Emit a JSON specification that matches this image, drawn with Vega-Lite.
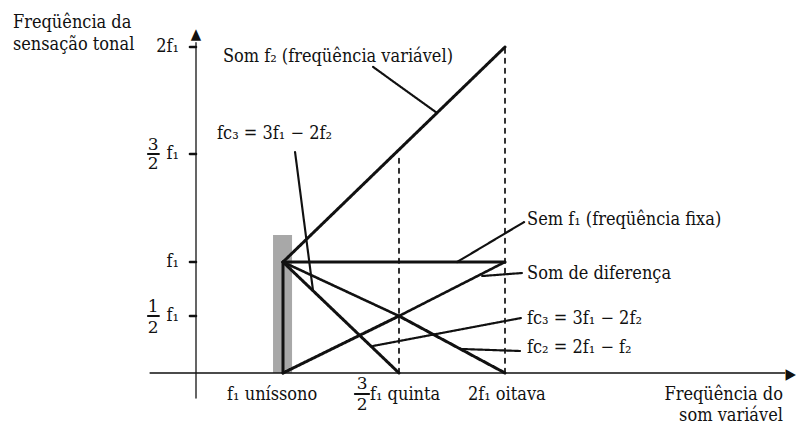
{
  "$schema": "https://vega.github.io/schema/vega-lite/v6.json",
  "width": 801,
  "height": 427,
  "autosize": "none",
  "padding": 0,
  "background": "white",
  "config": {"view": {"stroke": null}},
  "datasets": {
    "segs": [
      {"x": 1, "y": 1, "x2": 2, "y2": 2, "kind": "thick"},
      {"x": 1, "y": 1, "x2": 2, "y2": 1, "kind": "thick"},
      {"x": 1, "y": 0, "x2": 1, "y2": 1, "kind": "thick"},
      {"x": 1, "y": 1, "x2": 1.5, "y2": 0, "kind": "thick"},
      {"x": 1, "y": 0, "x2": 1.5, "y2": 0.5, "kind": "thick"},
      {"x": 1.5, "y": 0.5, "x2": 2, "y2": 1, "kind": "thin"},
      {"x": 1, "y": 1, "x2": 1.5, "y2": 0.5, "kind": "thin"},
      {"x": 1.5, "y": 0.5, "x2": 2, "y2": 0, "kind": "thick"},
      {"x": 1.5, "y": 0, "x2": 1.5, "y2": 1.5, "kind": "dash"},
      {"x": 2, "y": 0, "x2": 2, "y2": 2, "kind": "dash"},
      {"x": 0.427, "y": 0, "x2": 3.32, "y2": 0, "kind": "axis"},
      {"x": 0.625, "y": -0.22, "x2": 0.625, "y2": 2.02, "kind": "axis"},
      {"x": 0.599, "y": 0.5, "x2": 0.625, "y2": 0.5, "kind": "thin"},
      {"x": 0.599, "y": 1, "x2": 0.625, "y2": 1, "kind": "thin"},
      {"x": 0.599, "y": 1.5, "x2": 0.625, "y2": 1.5, "kind": "thin"},
      {"x": 0.599, "y": 2, "x2": 0.625, "y2": 2, "kind": "thin"},
      {"x": 0.418, "y": 1.5, "x2": 0.465, "y2": 1.5, "kind": "leader"},
      {"x": 0.418, "y": 0.5, "x2": 0.465, "y2": 0.5, "kind": "leader"},
      {"x": 1.31, "y": -0.184, "x2": 1.371, "y2": -0.184, "kind": "leader"},
      {"x": 1.388, "y": 1.907, "x2": 1.679, "y2": 1.692, "kind": "leader"},
      {"x": 1.052, "y": 1.509, "x2": 1.129, "y2": 0.741, "kind": "leader"},
      {"x": 2.09, "y": 1.185, "x2": 1.774, "y2": 1, "kind": "leader"},
      {"x": 1.892, "y": 0.87, "x2": 2.08, "y2": 0.898, "kind": "leader"},
      {"x": 1.388, "y": 0.237, "x2": 2.075, "y2": 0.482, "kind": "leader"},
      {"x": 1.788, "y": 0.211, "x2": 2.071, "y2": 0.193, "kind": "leader"}
    ],
    "band": [
      {"x": 0.957, "x2": 1.039, "y": 0, "y2": 1.125}
    ],
    "labels": [
      {"role": "left", "text": "Som f₂ (freqüência variável)", "x": 0.741, "y": 1.93},
      {"role": "left", "text": "fc₃ = 3f₁ − 2f₂", "x": 0.716, "y": 1.57},
      {"role": "left", "text": "Sem f₁ (freqüência fixa)", "x": 2.104, "y": 1.171},
      {"role": "left", "text": "Som de diferença", "x": 2.104, "y": 0.843},
      {"role": "left", "text": "fc₃ = 3f₁ − 2f₂", "x": 2.104, "y": 0.43},
      {"role": "left", "text": "fc₂ = 2f₁ − f₂", "x": 2.104, "y": 0.175},
      {"role": "left", "text": "f₁ uníssono", "x": 0.759, "y": -0.237},
      {"role": "left", "text": "f₁ quinta", "x": 1.375, "y": -0.237},
      {"role": "left", "text": "2f₁ oitava", "x": 1.825, "y": -0.237},
      {"role": "left", "text": "Freqüência da", "x": -0.164, "y": 2.089},
      {"role": "left", "text": "sensação tonal", "x": -0.164, "y": 1.986},
      {"role": "right", "text": "Freqüência do", "x": 3.311, "y": -0.237},
      {"role": "right", "text": "som variável", "x": 3.311, "y": -0.421},
      {"role": "tick", "text": "2f₁", "x": 0.552, "y": 2},
      {"role": "tick", "text": "f₁", "x": 0.552, "y": 1.5},
      {"role": "tick", "text": "f₁", "x": 0.552, "y": 1},
      {"role": "tick", "text": "f₁", "x": 0.552, "y": 0.5},
      {"role": "frac", "text": "3", "x": 0.44, "y": 1.542},
      {"role": "frac", "text": "2", "x": 0.44, "y": 1.454},
      {"role": "frac", "text": "1", "x": 0.44, "y": 0.583},
      {"role": "frac", "text": "2", "x": 0.44, "y": 0.395},
      {"role": "frac", "text": "3", "x": 1.341, "y": -0.096},
      {"role": "frac", "text": "2", "x": 1.341, "y": -0.281},
      {"role": "arrow", "text": "▲", "x": 0.625, "y": 2.062},
      {"role": "arrow", "text": "▶", "x": 3.347, "y": -0.008}
    ]
  },
  "encoding": {
    "x": {
      "field": "x",
      "type": "quantitative",
      "scale": {"domain": [1, 1.5, 2], "range": [283, 399, 505], "zero": false, "nice": false},
      "axis": null
    },
    "y": {
      "field": "y",
      "type": "quantitative",
      "scale": {"domain": [0, 0.5, 1, 1.5, 2], "range": [373, 316, 262, 154, 47], "zero": false, "nice": false},
      "axis": null
    }
  },
  "layer": [
    {
      "data": {"name": "band"},
      "mark": {"type": "rect", "fill": "#a8a8a8"},
      "encoding": {"x2": {"field": "x2"}, "y2": {"field": "y2"}}
    },
    {
      "data": {"name": "segs"},
      "mark": {"type": "rule", "color": "#111111", "strokeCap": "round"},
      "encoding": {
        "x2": {"field": "x2"},
        "y2": {"field": "y2"},
        "strokeWidth": {
          "field": "kind",
          "type": "nominal",
          "scale": {"domain": ["thick", "thin", "leader", "dash", "axis"], "range": [3, 1.3, 1, 1.3, 1.8]},
          "legend": null
        },
        "strokeDash": {
          "field": "kind",
          "type": "nominal",
          "scale": {"domain": ["thick", "thin", "leader", "dash", "axis"], "range": [[1, 0], [1, 0], [1, 0], [4.5, 5.5], [1, 0]]},
          "legend": null
        }
      }
    },
    {
      "data": {"name": "labels"},
      "transform": [{"filter": "datum.role === 'left'"}],
      "mark": {"type": "text", "font": "DejaVu Serif Condensed", "fontSize": 18, "color": "#111111", "align": "left", "baseline": "alphabetic"},
      "encoding": {"text": {"field": "text"}}
    },
    {
      "data": {"name": "labels"},
      "transform": [{"filter": "datum.role === 'right'"}],
      "mark": {"type": "text", "font": "DejaVu Serif Condensed", "fontSize": 18, "color": "#111111", "align": "right", "baseline": "alphabetic"},
      "encoding": {"text": {"field": "text"}}
    },
    {
      "data": {"name": "labels"},
      "transform": [{"filter": "datum.role === 'tick'"}],
      "mark": {"type": "text", "font": "DejaVu Serif Condensed", "fontSize": 18, "color": "#111111", "align": "right", "baseline": "middle"},
      "encoding": {"text": {"field": "text"}}
    },
    {
      "data": {"name": "labels"},
      "transform": [{"filter": "datum.role === 'frac'"}],
      "mark": {"type": "text", "font": "DejaVu Serif", "fontSize": 17, "color": "#111111", "align": "center", "baseline": "middle"},
      "encoding": {"text": {"field": "text"}}
    },
    {
      "data": {"name": "labels"},
      "transform": [{"filter": "datum.role === 'arrow'"}],
      "mark": {"type": "text", "font": "DejaVu Sans Condensed", "fontSize": 15, "color": "#111111", "align": "center", "baseline": "middle"},
      "encoding": {"text": {"field": "text"}}
    }
  ]
}
